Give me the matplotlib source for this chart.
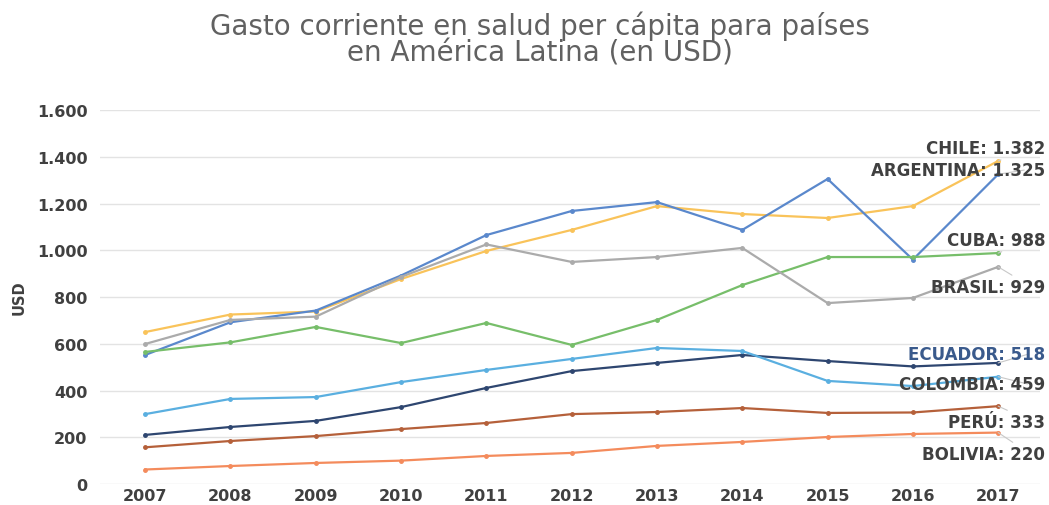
import matplotlib.pyplot as plt

# datos (USD per cápita)
anios = [2007, 2008, 2009, 2010, 2011, 2012, 2013, 2014, 2015, 2016, 2017]
chile = [650, 725, 738, 877, 997, 1087, 1189, 1155, 1138, 1189, 1382]
argentina = [552, 692, 742, 892, 1065, 1168, 1206, 1087, 1305, 960, 1325]
cuba = [565, 606, 672, 603, 689, 595, 702, 851, 971, 971, 988]
brasil = [599, 702, 716, 886, 1025, 950, 971, 1010, 774, 796, 929]
ecuador = [210, 244, 270, 329, 411, 483, 518, 552, 526, 503, 518]
colombia = [299, 364, 372, 436, 488, 535, 582, 569, 441, 419, 459]
peru = [157, 184, 205, 235, 261, 299, 308, 325, 304, 306, 333]
bolivia = [62, 77, 90, 100, 120, 133, 163, 180, 201, 214, 220]

paises = ["CHILE", "ARGENTINA", "CUBA", "BRASIL", "ECUADOR", "COLOMBIA", "PERÚ", "BOLIVIA"]
series = [chile, argentina, cuba, brasil, ecuador, colombia, peru, bolivia]
colores = ["#F9C35A", "#5A88CC", "#77BE6A", "#ABABAB", "#2E4670", "#5AAFE0", "#B5603A", "#F48B5C"]
# posicion vertical de cada etiqueta (en USD)
pos_etiqueta = [1437, 1343, 1044, 843, 556, 428, 265, 128]
color_texto = ["#404040"] * 8
color_texto[4] = "#3A5A8C"

plt.rcParams['font.family'] = ['DejaVu Sans']

fig = plt.figure(figsize=(10.49, 5.06), dpi=100)
ax = fig.add_axes([0.0953, 0.0415, 0.8961, 0.7391])

for nombre, vals, c in zip(paises, series, colores):
    ax.plot(anios, vals, color=c, lw=1.6, marker='o', ms=2.5, zorder=3)

for nombre, vals, c, yy, ct in zip(paises, series, colores, pos_etiqueta, color_texto):
    etiqueta = f"{nombre}: {vals[-1]:,}".replace(",", ".")
    ax.annotate(etiqueta, xy=(anios[-1], vals[-1]), xytext=(2017.55, yy),
                ha='right', va='center', fontsize=12, fontweight='bold', color=ct,
                arrowprops=dict(arrowstyle='-', color="#C8C8C8", lw=0.8,
                                shrinkA=0, shrinkB=0, relpos=(0.88, 0.5)),
                zorder=4)

ax.set_xlim(2006.47, 2017.49)
ax.set_ylim(0, 1600)
ax.set_yticks(range(0, 1601, 200))
ax.set_yticklabels([f"{v:,}".replace(",", ".") for v in range(0, 1601, 200)])
ax.set_xticks(anios)
ax.grid(axis='y', color="#E3E3E3", lw=1)
ax.set_axisbelow(True)
for s in ax.spines.values():
    s.set_visible(False)
ax.tick_params(length=0, labelsize=11.5, colors="#404040")
ax.tick_params(axis='y', pad=9)
ax.tick_params(axis='x', pad=3)
for t in ax.get_xticklabels() + ax.get_yticklabels():
    t.set_fontweight('bold')
ax.set_ylabel("USD", fontsize=10.5, fontweight='bold', color="#404040", labelpad=7)

fig.text(0.515, 0.922, "Gasto corriente en salud per cápita para países\nen América Latina (en USD)",
         ha='center', va='center', fontsize=20, color="#616161", linespacing=0.95)

fig.savefig("out.png", dpi=100, facecolor='white')
